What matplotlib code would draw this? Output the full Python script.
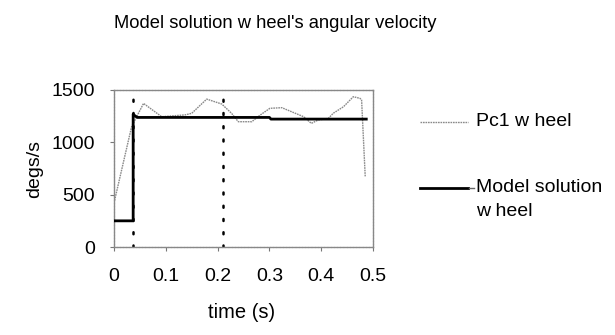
import matplotlib
matplotlib.use("Agg")
import matplotlib.pyplot as plt
from matplotlib.lines import Line2D

plt.rcParams['font.family'] = ['Liberation Sans', 'DejaVu Sans']

# Measured wheel velocity (Pc1)
pc1_t = [0.0, 0.034, 0.057, 0.079, 0.092, 0.137, 0.150, 0.179, 0.208, 0.227,
         0.240, 0.266, 0.282, 0.301, 0.324, 0.343, 0.366, 0.381, 0.394, 0.414,
         0.423, 0.443, 0.462, 0.475, 0.478, 0.485]
pc1_v = [420, 1150, 1372, 1292, 1245, 1262, 1277, 1413, 1366, 1277,
         1197, 1197, 1260, 1325, 1331, 1292, 1245, 1181, 1213, 1229,
         1277, 1340, 1436, 1420, 1404, 671]

# Model solution wheel velocity
model_t = [0.0, 0.037, 0.037, 0.040, 0.045, 0.300, 0.303, 0.487]
model_v = [250, 250, 1270, 1255, 1238, 1238, 1222, 1222]

# Event markers (s)
event_t = [0.037, 0.21]

x_ticks = [0, 0.1, 0.2, 0.3, 0.4, 0.5]
x_tick_labels = ['0', '0.1', '0.2', '0.3', '0.4', '0.5']
y_ticks = [0, 500, 1000, 1500]

fig = plt.figure(figsize=(6.15, 3.35), dpi=100)
ax = fig.add_axes([114 / 615, 1 - 247 / 335, (373 - 114) / 615, (247 - 90) / 335])

for t in event_t:
    ax.plot([t, t], [0, 1500], color='black', lw=1.8, linestyle=(0, (0.8, 4.5)),
            dash_capstyle='round', zorder=2)

ax.plot(pc1_t, pc1_v, color='#8a8a8a', lw=1.0, linestyle=(0, (1.2, 0.6)), zorder=3)
ax.plot(model_t, model_v, color='black', lw=2.0, zorder=4)

ax.set_xlim(0, 0.5)
ax.set_ylim(0, 1500)
ax.set_xticks(x_ticks)
ax.set_xticklabels(x_tick_labels)
ax.set_yticks(y_ticks)
ax.tick_params(axis='both', direction='out', length=3, width=0.8, color='#777777',
               labelsize=14)
ax.tick_params(axis='x', pad=12)
ax.tick_params(axis='y', pad=10.5)

for side, sp in ax.spines.items():
    sp.set_color('#888888')
    sp.set_linewidth(1.0)
    sp.set_linestyle((0, (1.5, 0.8)))

ax.set_xlabel('time (s)', fontsize=14.5, va='center')
ax.xaxis.set_label_coords(0.492, (247 - 313) / 157)
ax.set_ylabel('degs/s', fontsize=14, va='center')
ax.yaxis.set_label_coords((35 - 114) / 259, 0.5)

fig.text(275 / 615, 1 - 28.5 / 335, "Model solution w heel's angular velocity",
         ha='center', va='baseline', fontsize=13.2)

# Legend
fig.add_artist(Line2D([420 / 615, 468 / 615], [1 - 122 / 335] * 2,
                      color='#8a8a8a', lw=1.0, linestyle=(0, (1.2, 0.6))))
fig.text(476 / 615, 1 - 122 / 335, 'Pc1 w heel', ha='left', va='center', fontsize=14)
fig.add_artist(Line2D([420 / 615, 468 / 615], [1 - 188 / 335] * 2, color='black', lw=2.0))
fig.add_artist(Line2D([469 / 615, 474 / 615], [1 - 188 / 335] * 2, color='#666666', lw=1.0))
fig.text(476 / 615, 1 - 188 / 335, 'Model solution', ha='left', va='center', fontsize=14)
fig.text(476 / 615, 1 - 212 / 335, 'w heel', ha='left', va='center', fontsize=14)

fig.savefig('out.png', dpi=100)
